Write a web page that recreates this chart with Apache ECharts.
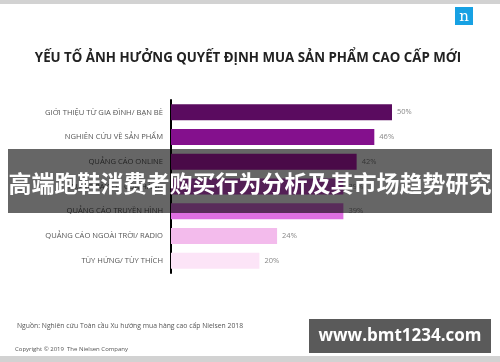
<!DOCTYPE html>
<html><head><meta charset="utf-8">
<script src="https://cdn.jsdelivr.net/npm/echarts@6/dist/echarts.min.js"></script>
<style>html,body{margin:0;padding:0;background:#fff}#c{width:500px;height:362px}</style>
</head><body><div id="c"></div>
<script>
var categories = ['GIỚI THIỆU TỪ GIA ĐÌNH/ BẠN BÈ','NGHIÊN CỨU VỀ SẢN PHẨM','QUẢNG CÁO ONLINE','TRƯNG BÀY TẠI CỬA HÀNG','QUẢNG CÁO TRUYỀN HÌNH','QUẢNG CÁO NGOÀI TRỜI/ RADIO','TÙY HỨNG/ TÙY THÍCH'];
var values = [50, 46, 42, 39, 39, 24, 20];
var barColors = ['#5a0b5f','#84108d','#b81bb5','#d24fd6','#df6fe2','#f3bbec','#fce4f7'];
var title = 'YẾU TỐ ẢNH HƯỞNG QUYẾT ĐỊNH MUA SẢN PHẨM CAO CẤP MỚI';
var sourceText = 'Nguồn: Nghiên cứu Toàn cầu Xu hướng mua hàng cao cấp Nielsen 2018';
var copyrightText = 'Copyright © 2019  The Nielsen Company';
var bannerText = '高端跑鞋消费者购买行为分析及其市场趋势研究';
var watermarkText = 'www.bmt1234.com';

var chart = echarts.init(document.getElementById('c'), null, {renderer:'canvas'});
chart.setOption({
  animation:false,
  backgroundColor:'#fff',
  grid:{left:171, top:100, width:265.2, height:173, containLabel:false},
  xAxis:{type:'value', min:0, max:60, show:false},
  yAxis:{type:'category', data:categories, inverse:true,
    axisLine:{show:true, lineStyle:{color:'#000', width:2}},
    axisTick:{show:false},
    axisLabel:{fontSize:7.6, color:'#555', margin:8, fontFamily:'Open Sans'}},
  series:[{type:'bar', barWidth:16,
    data:values.map(function(v,i){return {value:v, itemStyle:{color:barColors[i]}};}),
    label:{show:true, position:'right', distance:5, formatter:'{c}%', fontSize:7.5, color:'#888', fontFamily:'Open Sans'}}],
  graphic:[
    {type:'rect', shape:{x:0,y:0,width:500,height:4}, style:{fill:'#d2d2d2'}, z:10},
    {type:'rect', shape:{x:0,y:356,width:500,height:6}, style:{fill:'#d2d2d2'}, z:10},
    {type:'rect', shape:{x:455,y:7,width:18,height:18}, style:{fill:'#17a1e3'}, z:10},
    {type:'text', x:464, y:17, style:{text:'n', fill:'#fff', font:'15px "DejaVu Serif"', align:'center', verticalAlign:'middle'}, z:11},
    {type:'text', x:248, y:58, style:{text:title, fill:'#222', font:'bold 13.3px "Open Sans"', align:'center', verticalAlign:'middle'}, z:10},
    {type:'text', x:17, y:326, style:{text:sourceText, fill:'#555', font:'6.8px "Open Sans"', align:'left', verticalAlign:'middle'}, z:10},
    {type:'text', x:15, y:349, style:{text:copyrightText, fill:'#555', font:'6px "Open Sans"', align:'left', verticalAlign:'middle'}, z:10},
    {type:'rect', shape:{x:8,y:149,width:484,height:64}, style:{fill:'rgba(0,0,0,0.6)'}, z:20},
    {type:'text', x:250, y:183, style:{text:bannerText, fill:'#fff', font:'bold 23px "Noto Sans CJK SC"', align:'center', verticalAlign:'middle'}, z:21},
    {type:'rect', shape:{x:309,y:319,width:182,height:34}, style:{fill:'#5a5a5a'}, z:20},
    {type:'text', x:400, y:336, style:{text:watermarkText, fill:'#fff', font:'bold 17px "Open Sans"', align:'center', verticalAlign:'middle'}, z:21}
  ]
});
</script></body></html>
